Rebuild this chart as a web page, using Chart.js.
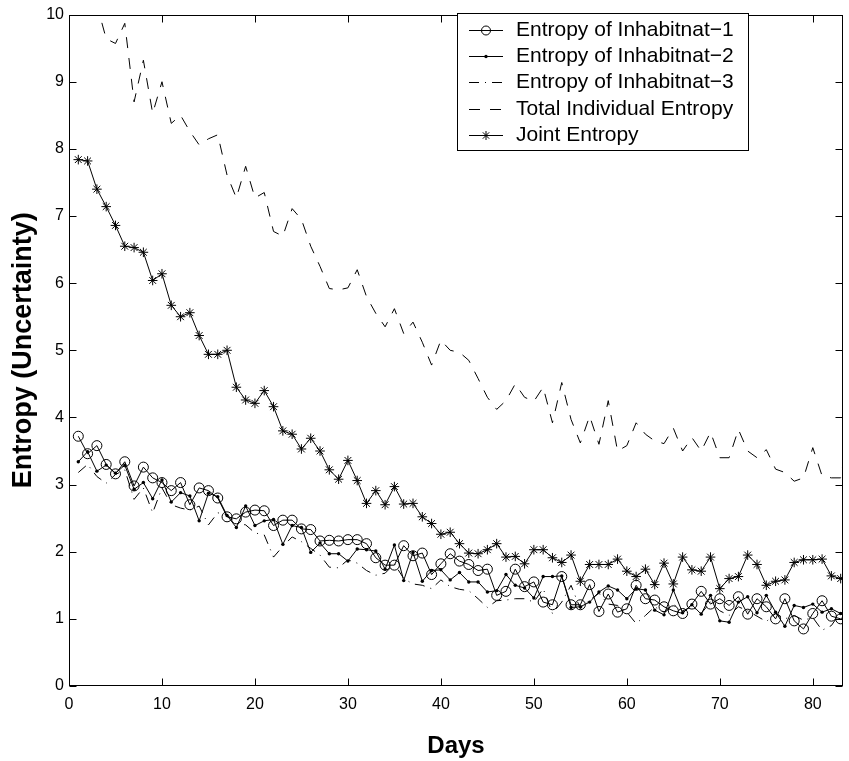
<!DOCTYPE html>
<html><head><meta charset="utf-8">
<script src="https://cdn.jsdelivr.net/npm/chart.js@4.4.1/dist/chart.umd.min.js"></script>
<style>html,body{margin:0;padding:0;background:#fff;}canvas{display:block;}</style>
</head><body>
<canvas id="c" width="849" height="761"></canvas>
<script>
const days = [1,2,3,4,5,6,7,8,9,10,11,12,13,14,15,16,17,18,19,20,21,22,23,24,25,26,27,28,29,30,
  31,32,33,34,35,36,37,38,39,40,41,42,43,44,45,46,47,48,49,50,51,52,53,54,55,56,57,58,59,60,
  61,62,63,64,65,66,67,68,69,70,71,72,73,74,75,76,77,78,79,80,81,82,83,84];

const inhabitant1 = [3.72,3.46,3.58,3.30,3.16,3.34,2.98,3.26,3.10,3.03,
  2.91,3.03,2.70,2.95,2.91,2.80,2.52,2.49,2.59,2.62,
  2.61,2.39,2.47,2.47,2.34,2.33,2.16,2.17,2.16,2.18,
  2.18,2.12,1.91,1.80,1.80,2.09,1.94,1.98,1.66,1.82,
  1.97,1.86,1.81,1.72,1.74,1.35,1.41,1.74,1.48,1.55,
  1.25,1.21,1.63,1.21,1.21,1.51,1.11,1.37,1.10,1.15,
  1.50,1.30,1.28,1.18,1.12,1.08,1.22,1.41,1.22,1.30,
  1.20,1.33,1.07,1.30,1.18,1.00,1.30,0.97,0.85,1.08,
  1.27,1.04,1.00,1.10];

const inhabitant2 = [3.34,3.49,3.20,3.29,3.17,3.29,2.93,3.03,2.79,3.07,
  2.74,2.88,2.83,2.46,2.87,2.82,2.54,2.36,2.68,2.39,
  2.46,2.48,2.11,2.39,2.36,1.99,2.13,1.97,1.97,1.86,
  2.04,2.03,2.01,1.74,2.10,1.57,1.99,1.56,1.72,1.73,
  1.58,1.69,1.55,1.55,1.40,1.42,1.66,1.50,1.46,1.31,
  1.63,1.63,1.64,1.17,1.18,1.25,1.40,1.49,1.43,1.30,
  1.45,1.43,1.13,1.06,1.43,1.09,1.21,1.07,1.35,0.97,
  0.95,1.25,1.33,1.09,1.35,1.10,0.89,1.20,1.17,1.22,
  1.10,1.15,1.08,1.12];

const inhabitant3 = [3.18,3.30,3.12,3.02,3.15,3.22,2.78,2.95,2.58,2.95,
  2.70,2.65,2.62,2.68,2.40,2.58,2.55,2.42,2.40,2.28,
  2.25,1.92,2.08,2.22,2.15,2.05,1.95,1.77,1.76,1.88,
  1.83,1.72,1.65,1.68,1.82,1.60,1.52,1.50,1.45,1.58,
  1.48,1.44,1.42,1.30,1.17,1.27,1.28,1.30,1.30,1.25,
  1.45,1.08,1.25,1.50,1.15,1.28,1.38,1.22,1.20,1.10,
  0.93,1.05,1.18,1.10,1.22,1.12,1.18,1.08,1.25,1.12,
  1.05,1.18,1.12,1.04,0.96,1.08,1.00,1.05,0.98,1.02,
  0.83,0.90,1.10,1.25];

const totalIndividual = [10.30,10.30,10.15,9.64,9.57,9.87,8.70,9.32,8.53,9.00,
  8.38,8.50,8.26,8.06,8.15,8.21,7.61,7.27,7.74,7.27,
  7.35,6.77,6.70,7.11,6.95,6.55,6.25,5.92,5.90,5.93,
  6.20,5.80,5.55,5.35,5.62,5.25,5.42,5.12,4.78,5.15,
  5.00,4.97,4.85,4.58,4.30,4.12,4.25,4.50,4.30,4.24,
  4.45,3.92,4.52,3.97,3.62,4.02,3.60,4.25,3.50,3.58,
  3.92,3.75,3.65,3.61,3.84,3.50,3.70,3.50,3.78,3.40,
  3.40,3.82,3.50,3.40,3.52,3.23,3.18,3.05,3.10,3.55,
  3.13,3.10,3.10,3.90];

const jointEntropy = [7.84,7.82,7.40,7.14,6.86,6.55,6.53,6.46,6.04,6.14,
  5.67,5.50,5.56,5.22,4.94,4.94,5.00,4.45,4.26,4.21,
  4.40,4.16,3.80,3.75,3.53,3.69,3.50,3.22,3.08,3.36,
  3.06,2.72,2.91,2.70,2.97,2.71,2.72,2.52,2.42,2.26,
  2.29,2.12,1.98,1.97,2.03,2.12,1.92,1.93,1.82,2.03,
  2.03,1.91,1.84,1.95,1.56,1.81,1.81,1.81,1.89,1.71,
  1.63,1.74,1.51,1.83,1.52,1.92,1.73,1.71,1.92,1.45,
  1.60,1.63,1.95,1.81,1.50,1.56,1.58,1.84,1.88,1.88,
  1.89,1.64,1.60,1.70];

const seriesLabels = ['Entropy of Inhabitnat\u22121','Entropy of Inhabitnat\u22122','Entropy of Inhabitnat\u22123','Total Individual Entropy','Joint Entropy'];
const xTicks = [0,10,20,30,40,50,60,70,80];
const yTicks = [0,1,2,3,4,5,6,7,8,9,10];
const xLabel = 'Days';
const yLabel = 'Entropy (Uncertainty)';

Chart.defaults.font.family = '"Liberation Sans", Arial, Helvetica, sans-serif';
Chart.defaults.color = '#000';

const pts = vals => days.map((d, i) => ({x: d, y: vals[i]}));

const datasets = [
  {label: seriesLabels[0], data: pts(inhabitant1), borderColor:'#000', borderWidth:1,
   pointStyle:'circle', pointRadius:5, pointBackgroundColor:'rgba(0,0,0,0)', pointBorderColor:'#000', pointBorderWidth:1,
   legendRadius:4.5},
  {label: seriesLabels[1], data: pts(inhabitant2), borderColor:'#000', borderWidth:1,
   pointStyle:'circle', pointRadius:1.7, pointBackgroundColor:'#000', pointBorderColor:'#000', pointBorderWidth:0,
   legendRadius:1.7},
  {label: seriesLabels[2], data: pts(inhabitant3), borderColor:'#000', borderWidth:1, borderDash:[10,6,1,6],
   pointRadius:0, legendRadius:0},
  {label: seriesLabels[3], data: pts(totalIndividual), borderColor:'#000', borderWidth:1, borderDash:[11,10],
   pointRadius:0, legendRadius:0},
  {label: seriesLabels[4], data: pts(jointEntropy), borderColor:'#000', borderWidth:1,
   pointStyle:'star', pointRadius:4.8, pointBackgroundColor:'#000', pointBorderColor:'#000', pointBorderWidth:1,
   legendRadius:4.5}
];
datasets.forEach(d => { d.tension = 0; d.fill = false; d.pointHoverRadius = d.pointRadius; });

const framePlugin = {
  id: 'frame',
  afterDatasetsDraw(chart) {
    const {ctx, chartArea: a, scales: {x, y}} = chart;
    ctx.save();
    ctx.strokeStyle = '#000';
    ctx.lineWidth = 1;
    const L = Math.round(a.left) + 0.5, R = Math.round(a.right) - 0.5;
    const T = Math.round(a.top) + 0.5, B = Math.round(a.bottom) - 0.5;
    ctx.strokeRect(L, T, R - L, B - T);
    const tl = 7;
    ctx.beginPath();
    xTicks.forEach(v => {
      const px = Math.round(x.getPixelForValue(v)) + 0.5;
      ctx.moveTo(px, B); ctx.lineTo(px, B - tl);
      ctx.moveTo(px, T); ctx.lineTo(px, T + tl);
    });
    yTicks.forEach(v => {
      const py = Math.round(y.getPixelForValue(v)) + 0.5;
      ctx.moveTo(L, py); ctx.lineTo(L + tl, py);
      ctx.moveTo(R, py); ctx.lineTo(R - tl, py);
    });
    ctx.stroke();
    ctx.restore();
  }
};

const legendPlugin = {
  id: 'boxLegend',
  afterDraw(chart) {
    const ctx = chart.ctx;
    const box = {left: 457.5, top: 13.5, right: 748.5, bottom: 150.5};
    const rowY0 = 30, rowH = 26.2, lx0 = 469, lx1 = 503, tx = 516;
    ctx.save();
    ctx.fillStyle = '#fff';
    ctx.fillRect(box.left, box.top, box.right - box.left, box.bottom - box.top);
    ctx.strokeStyle = '#000';
    ctx.lineWidth = 1;
    ctx.strokeRect(box.left, box.top, box.right - box.left, box.bottom - box.top);
    chart.data.datasets.forEach((ds, i) => {
      const yy = Math.round(rowY0 + i * rowH) + 0.5;
      ctx.save();
      ctx.strokeStyle = '#000';
      ctx.lineWidth = 1;
      ctx.setLineDash(ds.borderDash || []);
      ctx.beginPath();
      ctx.moveTo(lx0, yy); ctx.lineTo(lx1, yy);
      ctx.stroke();
      ctx.setLineDash([]);
      if (ds.legendRadius > 0) {
        ctx.fillStyle = ds.pointBackgroundColor;
        ctx.strokeStyle = ds.pointBorderColor;
        ctx.lineWidth = ds.pointBorderWidth;
        Chart.helpers.drawPoint(ctx, {pointStyle: ds.pointStyle, radius: ds.legendRadius, rotation: 0, borderWidth: ds.pointBorderWidth}, (lx0 + lx1) / 2, yy);
      }
      ctx.restore();
      ctx.fillStyle = '#000';
      ctx.font = '21px "Liberation Sans", Arial, Helvetica, sans-serif';
      ctx.textBaseline = 'middle';
      ctx.textAlign = 'left';
      ctx.fillText(ds.label, tx, yy);
    });
    ctx.restore();
  }
};

new Chart(document.getElementById('c').getContext('2d'), {
  type: 'line',
  data: {datasets},
  options: {
    responsive: false,
    animation: false,
    devicePixelRatio: 1,
    parsing: true,
    layout: {padding: {top: 13, right: 2, left: 0, bottom: 0}},
    plugins: {legend: {display: false}, tooltip: {enabled: false}},
    events: [],
    scales: {
      x: {
        type: 'linear', min: 0, max: 83.25,
        afterBuildTicks: s => { s.ticks = xTicks.map(v => ({value: v})); },
        afterFit: s => { s.height = 75; },
        grid: {display: false, drawTicks: false},
        border: {display: false},
        ticks: {font: {size: 16}, color: '#000', padding: 9, maxRotation: 0, autoSkip: false},
        title: {display: true, text: xLabel, color: '#000', font: {size: 24, weight: 'bold'}, padding: {top: 6, bottom: 0}}
      },
      y: {
        type: 'linear', min: 0, max: 10,
        afterBuildTicks: s => { s.ticks = yTicks.map(v => ({value: v})); },
        afterFit: s => { s.width = 69; },
        grid: {display: false, drawTicks: false},
        border: {display: false},
        ticks: {font: {size: 16}, color: '#000', padding: 5, autoSkip: false},
        title: {display: true, text: yLabel, color: '#000', font: {size: 27, weight: 'bold'}, padding: {top: 7, bottom: 0}}
      }
    }
  },
  plugins: [framePlugin, legendPlugin]
});
</script>
</body></html>
